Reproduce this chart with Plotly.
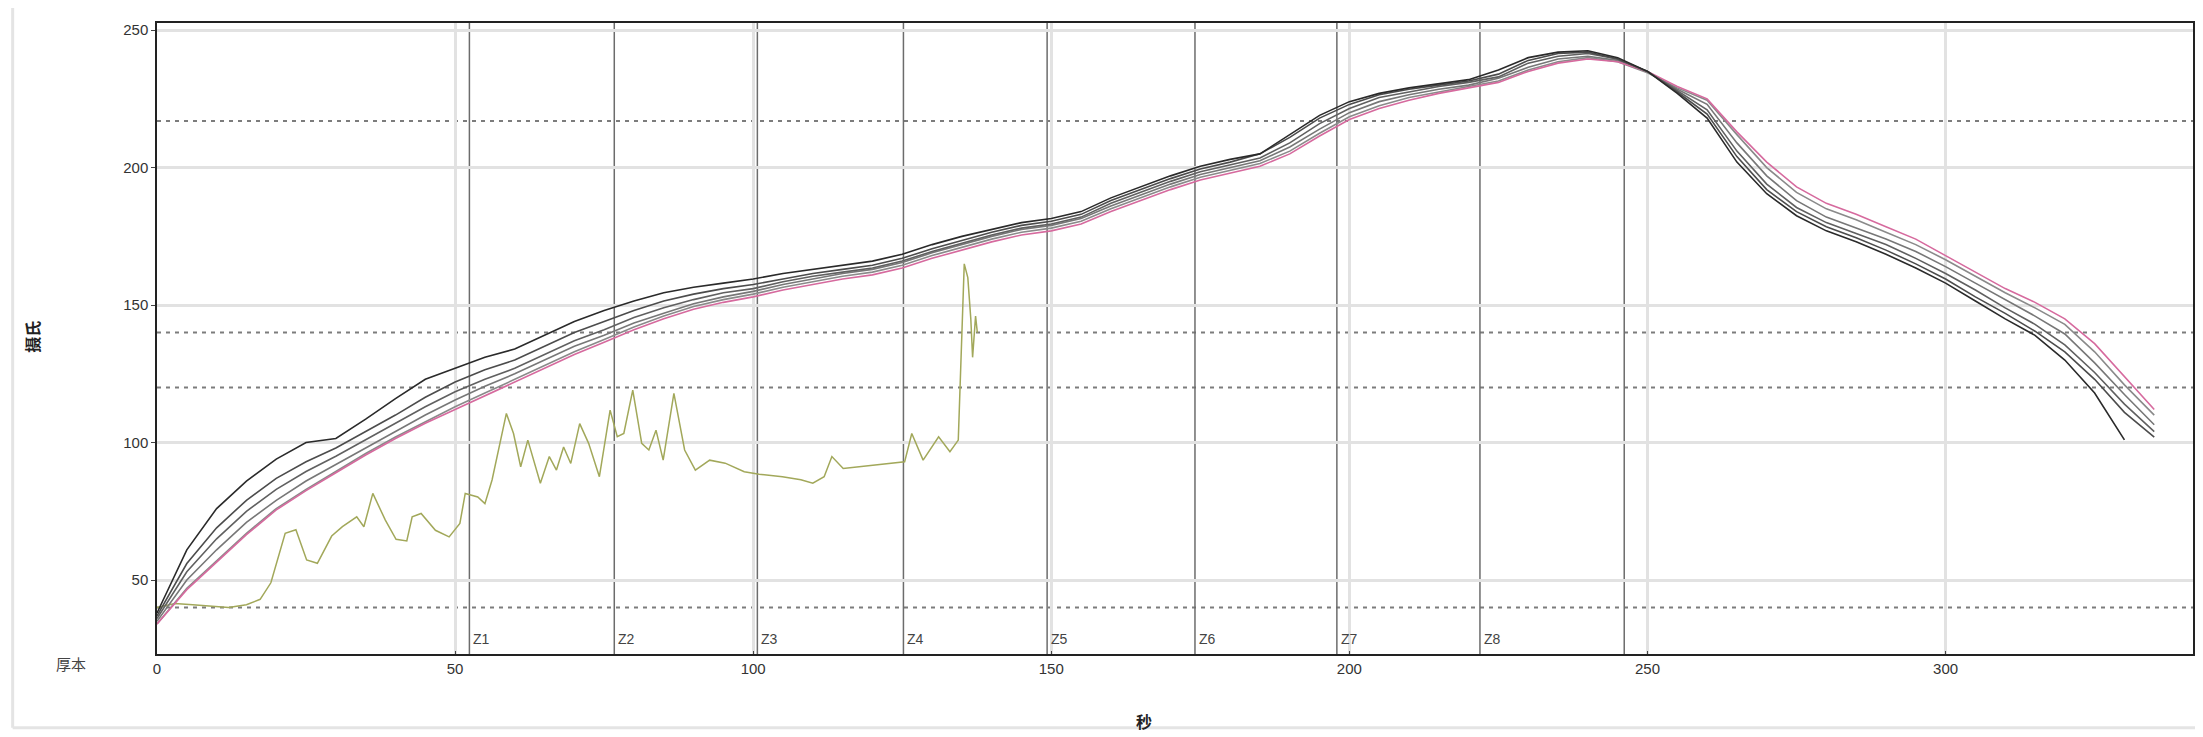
import plotly.graph_objects as go

# ---------------- data ----------------
time_s = [0, 5, 10, 15, 20, 25, 30, 35, 40, 45, 50, 55, 60, 65, 70, 75, 80, 85, 90, 95,
          100, 105, 110, 115, 120, 125, 130, 135, 140, 145, 150, 155, 160, 165, 170, 175,
          180, 185, 190, 195, 200, 205, 210, 215, 220, 225, 230, 235, 240, 245, 250,
          255, 260, 265, 270, 275, 280, 285, 290, 295, 300, 305, 310, 315, 320, 325, 330, 335]

probe_a = [38, 61, 76, 86, 94, 100, 101.5, 108.5, 116, 123, 127, 131, 134, 139, 144, 148, 151.5, 154.5, 156.5, 158,
           159.5, 161.5, 163, 164.5, 166, 168.5, 172, 175, 177.5, 180, 181.5, 184, 189, 193, 197, 200.5,
           203, 205, 212, 219, 224, 227, 229, 230.5, 232, 235.5, 240, 242, 242.5, 240, 235,
           227, 218, 202, 190.5, 182.5, 177, 173, 168.5, 163.5, 158, 151.5, 145, 139, 130, 118, 101, None]
probe_b = [37, 56, 69, 79, 87, 93, 98, 104, 110, 116.5, 122, 126.5, 130, 135, 140, 144, 148, 151.5, 154, 156,
           157.5, 159.5, 161.5, 163, 164.5, 167, 170.5, 173.5, 176.5, 179, 180.5, 183, 188, 192, 196, 199.5,
           202, 205, 211, 218, 223, 226.5, 228.5, 230, 231.5, 234, 239, 241.5, 242, 239.5, 235,
           227.5, 219.5, 204, 192, 184, 178.5, 174.5, 170, 165, 159.5, 153, 147, 140.5, 133, 123, 111, 102]
probe_c = [36, 53, 65, 75, 83, 89.5, 95, 101, 107, 113, 118.5, 123, 127, 132, 137, 141, 145.5, 149, 152, 154.5,
           156, 158.5, 160.5, 162, 163.5, 166, 169.5, 172.5, 175.5, 178, 179.5, 182, 187, 191, 195, 198.5,
           201, 203.5, 209, 216, 221.5, 225.5, 227.5, 229.5, 231, 233, 238, 240.5, 241.5, 239.5, 235,
           228, 221, 206, 194, 185.5, 180, 176, 172, 167, 161.5, 155.5, 149, 143, 135.5, 125.5, 114, 104]
probe_d = [35, 50, 61, 71, 79, 86, 92, 98, 104, 110, 115.5, 120.5, 125, 130, 135, 139, 143.5, 147, 150.5, 153,
           155, 157.5, 159.5, 161.5, 163, 165.5, 169, 172, 175, 177.5, 179, 181.5, 186, 190, 194, 197.5,
           200, 202.5, 207.5, 214, 220, 224, 226.5, 228.5, 230, 232.5, 236.5, 239.5, 240.5, 239, 235,
           228.5, 223, 209, 197, 188, 182, 178, 174, 169.5, 164, 158, 152, 146, 139.5, 129, 117.5, 106.5]
probe_e = [34, 47, 57, 67, 76, 83, 89.5, 96, 102, 107.5, 113, 118, 123, 128, 133, 137.5, 142, 146, 149.5, 152,
           154, 156.5, 158.5, 160.5, 162, 164.5, 168, 171, 174, 176.5, 178, 180.5, 185, 189, 193, 196.5,
           199, 201.5, 206, 212.5, 218.5, 222.5, 225.5, 227.5, 229.5, 231.5, 235.5, 238.5, 240, 238.5, 234.5,
           229, 224.5, 212, 200, 191, 185, 181, 176.5, 172, 166.5, 160.5, 154.5, 149, 143, 133, 121, 110]
probe_pink = [34, 46.5, 56.5, 66.5, 75.5, 82.5, 89, 95.5, 101.5, 107, 112, 117, 122, 127, 132, 136.5, 141, 145, 148.5, 151,
              153, 155.5, 157.5, 159.5, 161, 163.5, 167, 170, 173, 175.5, 177, 179.5, 184, 188, 192, 195.5,
              198, 200.5, 205, 211.5, 217.5, 221.5, 224.5, 227, 229, 231, 235, 238, 239.5, 238.5, 235,
              229.5, 225, 213, 202, 193, 187, 183, 178.5, 174, 168, 162, 156, 151, 145, 136, 124, 112]

green_t = [0, 3, 6, 9, 12, 15, 17.3, 19.1, 21.5, 23.3, 25.1, 26.9, 29.3, 31.1, 33.5, 34.7, 36.2, 38.3, 40.1, 41.9,
           42.8, 44.3, 46.7, 49, 50.8, 51.7, 53.8, 55, 56.2, 58.6, 59.8, 61, 62.2, 64.3, 65.8, 67, 68.2, 69.4,
           70.9, 72.4, 74.2, 76, 77.2, 78.3, 79.8, 81.3, 82.5, 83.7, 84.9, 86.7, 88.5, 90.3, 92.7, 95.3, 98.5,
           101, 104.9, 108, 110, 111.9, 113.2, 115.1, 118, 120.9, 123.5, 125.4, 126.6, 128.5, 131.1, 133, 134.4,
           135.4, 136, 136.5, 136.8, 137.3, 137.6]
green_v = [40, 41.5, 41, 40.5, 40, 41, 43, 49, 67, 68.3, 57.3, 56.1, 66, 69.4, 73, 69.4, 81.5, 71.8, 64.8, 64.2,
           73, 74.2, 68.1, 65.7, 70.6, 81.5, 80.2, 77.8, 86.4, 110.6, 103.3, 91.2, 100.9, 85.2, 94.9, 90, 98.4, 92.4,
           106.9, 99.7, 87.6, 111.8, 102.1, 103.3, 119.1, 99.7, 97.3, 104.5, 93.6, 117.9, 97.3, 90, 93.6, 92.5, 89.4,
           88.5, 87.6, 86.5, 85.2, 87.6, 94.9, 90.6, 91.2, 91.8, 92.5, 93, 103.3, 93.6, 102.1, 96.7, 100.9,
           165, 160, 145, 131, 146, 140]

ref_levels = [40, 120, 140, 200, 217]
zone_bounds = [52.4, 76.7, 100.7, 125.2, 149.3, 174.1, 197.9, 221.9, 246.1]
zone_labels = ["Z1", "Z2", "Z3", "Z4", "Z5", "Z6", "Z7", "Z8"]
x_ticks = [0, 50, 100, 150, 200, 250, 300]
y_ticks = [50, 100, 150, 200, 250]

# ---------------- figure ----------------
fig = go.Figure()

for lv in ref_levels:
    fig.add_shape(type="line", xref="paper", x0=0, x1=1, yref="y", y0=lv, y1=lv,
                  line=dict(color="#7c7c7c", width=2, dash="4px,5px"), layer="below")

for zb in zone_bounds:
    fig.add_shape(type="line", xref="x", x0=zb, x1=zb, yref="paper", y0=0, y1=1,
                  line=dict(color="#6c6c6c", width=1.5), layer="below")

for lab, zb in zip(zone_labels, zone_bounds):
    fig.add_annotation(x=zb, xref="x", y=0.024, yref="paper", text=lab, showarrow=False,
                       xanchor="left", yanchor="middle", xshift=2,
                       font=dict(family="Liberation Sans, Arial", size=14, color="#444"))

fig.add_trace(go.Scatter(x=green_t, y=green_v, mode="lines",
                         line=dict(color="#a2a85a", width=1.5), showlegend=False))

probe_styles = [
    (probe_e, "#8a8a8a"),
    (probe_d, "#777777"),
    (probe_pink, "#d66a9e"),
    (probe_c, "#606060"),
    (probe_b, "#4c4c4c"),
    (probe_a, "#2a2a2a"),
]
for series, col in probe_styles:
    fig.add_trace(go.Scatter(x=time_s, y=series, mode="lines", connectgaps=False,
                             line=dict(color=col, width=1.6), showlegend=False))

fig.add_annotation(x=-0.0611, xref="paper", y=0.502, yref="paper", text="<b>摄氏</b>",
                   textangle=-90, showarrow=False, xanchor="center", yanchor="middle",
                   font=dict(family="Noto Sans CJK SC", size=16, color="#222"))
fig.add_annotation(x=0.485, xref="paper", y=-0.106, yref="paper", text="<b>秒</b>",
                   showarrow=False, xanchor="center", yanchor="middle",
                   font=dict(family="Noto Sans CJK SC", size=16, color="#222"))
fig.add_annotation(x=-0.0424, xref="paper", y=-0.0143, yref="paper", text="厚本",
                   showarrow=False, xanchor="center", yanchor="middle",
                   font=dict(family="Noto Sans CJK SC", size=15, color="#444"))

fig.add_shape(type="line", xref="paper", x0=-0.0709, x1=-0.0709, yref="paper", y0=-0.117, y1=1.04,
              line=dict(color="#e4e4e4", width=3))
fig.add_shape(type="line", xref="paper", x0=-0.0709, x1=1.004, yref="paper", y0=-0.117, y1=-0.117,
              line=dict(color="#e4e4e4", width=3))

# page body has an 8px margin: plot area spans x 157..2195, y 23..654 in the window
fig.update_layout(
    width=2195, height=729,
    margin=dict(l=149, r=8, t=15, b=83),
    paper_bgcolor="white", plot_bgcolor="white",
    font=dict(family="Liberation Sans, Arial", size=15, color="#333"),
    showlegend=False,
)
fig.update_xaxes(range=[0, 341.5], tickvals=x_ticks, ticktext=[str(v) for v in x_ticks],
                 showgrid=True, gridcolor="#e2e2e2", gridwidth=3, zeroline=False,
                 showline=True, linecolor="#222", linewidth=1.5, mirror=True,
                 ticks="inside", ticklen=3, tickcolor="#444",
                 tickfont=dict(size=15, color="#333"))
fig.update_yaxes(range=[23.1, 252.6], tickvals=y_ticks, ticktext=[str(v) for v in y_ticks],
                 showgrid=True, gridcolor="#e2e2e2", gridwidth=3, zeroline=False,
                 showline=True, linecolor="#222", linewidth=1.5, mirror=True,
                 ticks="outside", ticklen=4, tickcolor="#444",
                 tickfont=dict(size=15, color="#333"))

fig.write_html("out.html")
